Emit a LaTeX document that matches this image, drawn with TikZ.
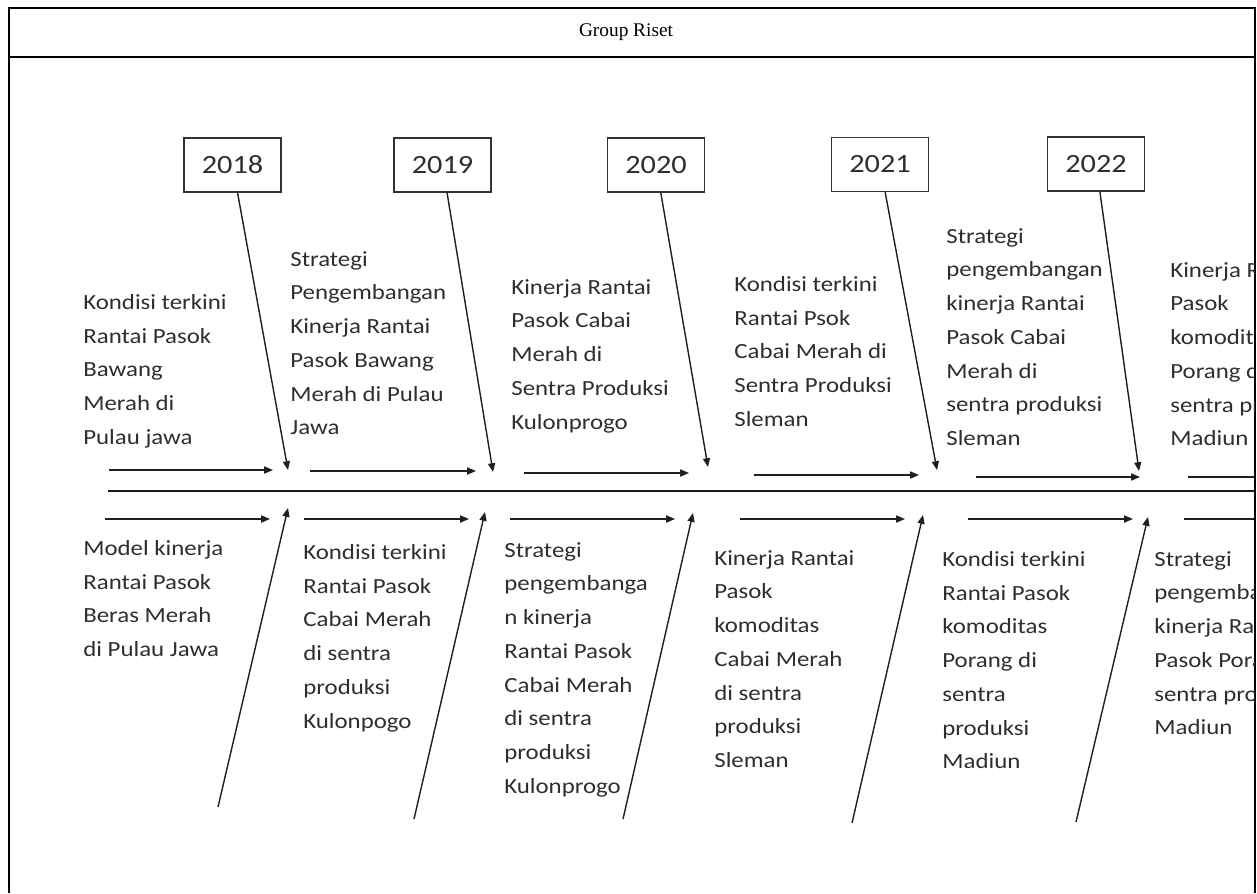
\documentclass[tikz,border=0pt]{standalone}
\usepackage{fontspec}
\setmainfont{Liberation Serif}
\newfontfamily\calib[FakeStretch=1.15]{Carlito}
\usetikzlibrary{arrows.meta}

\begin{document}
\begin{tikzpicture}[x=0.02cm,y=-0.02cm,
  arr/.style={line width=0.8pt, black!88, -{Triangle[length=5pt,width=4pt]}},
  yearbox/.style={draw=black!80, line width=0.8pt, minimum width=1.94cm,
    minimum height=1.08cm, inner sep=0pt, text=black!82,
    font={\calib\fontsize{15}{18}\selectfont}},
  txt/.style={anchor=north west, align=left, inner sep=0pt, text=black!82,
    font={\calib\fontsize{12.3}{19.2}\selectfont}}]
\useasboundingbox (0,0) rectangle (1257,893);
% table cell
\draw[line width=1pt] (9,893) -- (9,8) -- (1255,8) -- (1255,893);
\draw[line width=1pt] (9,57) -- (1255,57);
\node[font={\fontsize{11}{13}\selectfont}] (title) at (626,32) {Group Riset};

\begin{scope}
\clip (10,58) rectangle (1254,893);
% spine
\coordinate (spL) at (108,491);
\coordinate (spR) at (1270,491);
\draw[line width=1.1pt, black!90] (spL) -- (spR);

% years
\node[yearbox] (y2018) at (232.5,165) {2018};
\node[yearbox] (y2019) at (442.5,165) {2019};
\node[yearbox] (y2020) at (656,165) {2020};
\node[yearbox] (y2021) at (880,164.5) {2021};
\node[yearbox] (y2022) at (1096,164) {2022};

% upper bones
\foreach \yr/\tx/\ty in {2018/288/470, 2019/493/472, 2020/708/467, 2021/937/470, 2022/1139/471} {
  \coordinate (t\yr) at (\tx,\ty);
  \draw[arr] (y\yr) -- (t\yr);
}
% lower bones
\foreach \i/\fx/\fy/\tx/\ty in {1/218/807/288/508, 2/414/819/485/512, 3/623/819/693/513,
    4/852/823/923/515, 5/1076/822/1148/517} {
  \coordinate (lf\i) at (\fx,\fy);
  \coordinate (lt\i) at (\tx,\ty);
  \draw[arr] (lf\i) -- (lt\i);
}
% horizontal arrows above the spine
\foreach \i/\xa/\xb/\yy in {1/109/273/470, 2/310/476/471, 3/524/689/473,
    4/754/919/475, 5/976/1140/477, 6/1188/1353/477} {
  \coordinate (ua\i) at (\xa,\yy);
  \coordinate (ub\i) at (\xb,\yy);
  \draw[arr] (ua\i) -- (ub\i);
}
% horizontal arrows below the spine
\foreach \i/\xa/\xb in {1/105/270, 2/304/469, 3/510/675, 4/740/905, 5/968/1133, 6/1184/1349} {
  \coordinate (la\i) at (\xa,519);
  \coordinate (lb\i) at (\xb,519);
  \draw[arr] (la\i) -- (lb\i);
}

% texts above
\node[txt] (up1) at (83,294) {Kondisi terkini\\Rantai Pasok\\Bawang\\Merah di\\Pulau jawa};
\node[txt] (up2) at (290,251) {Strategi\\Pengembangan\\Kinerja Rantai\\Pasok Bawang\\Merah di Pulau\\Jawa};
\node[txt] (up3) at (511,279) {Kinerja Rantai\\Pasok Cabai\\Merah di\\Sentra Produksi\\Kulonprogo};
\node[txt] (up4) at (734,276) {Kondisi terkini\\Rantai Psok\\Cabai Merah di\\Sentra Produksi\\Sleman};
\node[txt] (up5) at (946,228) {Strategi\\pengembangan\\kinerja Rantai\\Pasok Cabai\\Merah di\\sentra produksi\\Sleman};
\node[txt] (up6) at (1170,262) {Kinerja Rantai\\Pasok\\komoditas\\Porang di\\sentra produksi\\Madiun};
% texts below
\node[txt] (lo1) at (83,540) {Model kinerja\\Rantai Pasok\\Beras Merah\\di Pulau Jawa};
\node[txt] (lo2) at (303,544) {Kondisi terkini\\Rantai Pasok\\Cabai Merah\\di sentra\\produksi\\Kulonpogo};
\node[txt] (lo3) at (504,542) {Strategi\\pengembanga\\n kinerja\\Rantai Pasok\\Cabai Merah\\di sentra\\produksi\\Kulonprogo};
\node[txt] (lo4) at (714,550) {Kinerja Rantai\\Pasok\\komoditas\\Cabai Merah\\di sentra\\produksi\\Sleman};
\node[txt] (lo5) at (942,551) {Kondisi terkini\\Rantai Pasok\\komoditas\\Porang di\\sentra\\produksi\\Madiun};
\node[txt] (lo6) at (1154,551) {Strategi\\pengembangan\\kinerja Rantai\\Pasok Porang di\\sentra produksi\\Madiun};
\end{scope}
\end{tikzpicture}
\end{document}
